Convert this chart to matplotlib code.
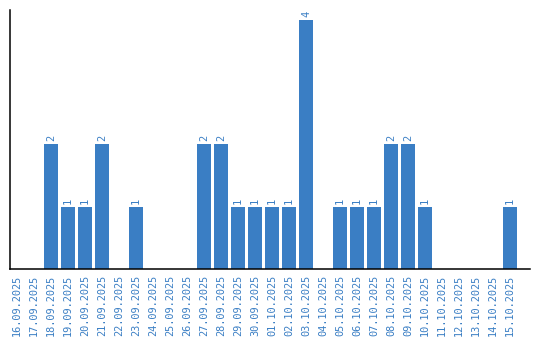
import matplotlib
matplotlib.use("Agg")
import matplotlib.pyplot as plt

dates = ["16.09.2025", "17.09.2025", "18.09.2025", "19.09.2025", "20.09.2025",
         "21.09.2025", "22.09.2025", "23.09.2025", "24.09.2025", "25.09.2025",
         "26.09.2025", "27.09.2025", "28.09.2025", "29.09.2025", "30.09.2025",
         "01.10.2025", "02.10.2025", "03.10.2025", "04.10.2025", "05.10.2025",
         "06.10.2025", "07.10.2025", "08.10.2025", "09.10.2025", "10.10.2025",
         "11.10.2025", "12.10.2025", "13.10.2025", "14.10.2025", "15.10.2025"]
counts = [0, 0, 2, 1, 1, 2, 0, 1, 0, 0,
          0, 2, 2, 1, 1, 1, 1, 4, 0, 1,
          1, 1, 2, 2, 1, 0, 0, 0, 0, 1]

blue = '#3a7ec4'
plt.rcParams['font.family'] = 'DejaVu Sans Mono'

fig = plt.figure(figsize=(5.4, 3.4), dpi=100)
ax = fig.add_axes([10 / 540, 1 - 269 / 340, 520 / 540, 259 / 340])

x = list(range(len(dates)))
ax.bar(x, counts, width=0.82, color=blue)
for xi, c in zip(x, counts):
    if c > 0:
        ax.text(xi, c + 0.05, str(c), rotation=90, ha='center', va='bottom',
                color=blue, fontsize=7.5)

ax.set_xlim(-0.41, 30.18)
ax.set_ylim(0, 4.16)
ax.set_xticks(x)
ax.set_xticklabels(dates, rotation=90, color=blue, fontsize=7.4)
ax.tick_params(axis='x', length=0, pad=4)
ax.set_yticks([])
ax.spines['top'].set_visible(False)
ax.spines['right'].set_visible(False)
ax.spines['left'].set_linewidth(1.1)
ax.spines['bottom'].set_linewidth(1.1)

fig.savefig('out.png', dpi=100)
